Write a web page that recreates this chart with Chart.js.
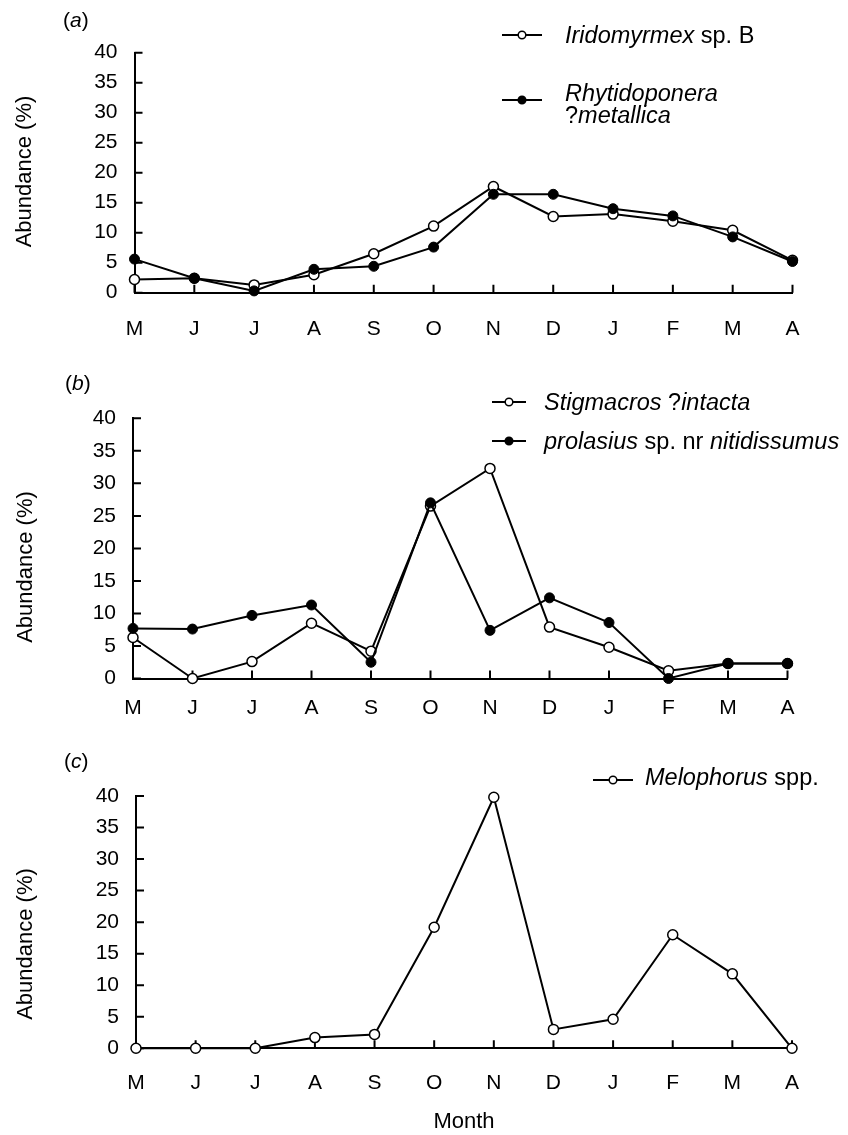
<!DOCTYPE html>
<html>
<head>
<meta charset="utf-8">
<title>Ant abundance by month</title>
<script src="https://cdn.jsdelivr.net/npm/chart.js@4.4.1/dist/chart.umd.min.js"></script>
<style>
  body { margin: 0; background: #fff; }
  #wrap { position: relative; width: 848px; height: 1135px; }
  #wrap canvas { position: absolute; left: 0; }
</style>
</head>
<body>
<div id="wrap">
  <canvas id="chartA" width="848" height="360" style="top:0px"></canvas>
  <canvas id="chartB" width="848" height="360" style="top:360px"></canvas>
  <canvas id="chartC" width="848" height="415" style="top:720px"></canvas>
</div>
<script>
// --- datos ---
const months = ['M', 'J', 'J', 'A', 'S', 'O', 'N', 'D', 'J', 'F', 'M', 'A'];
const yTicks = [0, 5, 10, 15, 20, 25, 30, 35, 40];

// (a)
const iridomyrmex   = [2.2, 2.4, 1.3, 3.0, 6.5, 11.1, 17.7, 12.7, 13.1, 11.9, 10.4, 5.4];
const rhytidoponera = [5.6, 2.4, 0.3, 3.9, 4.4, 7.6, 16.4, 16.4, 14.0, 12.8, 9.3, 5.2];
// (b)
const stigmacros = [6.3, 0, 2.6, 8.5, 4.2, 26.5, 32.3, 7.9, 4.8, 1.2, 2.3, 2.3];
const prolasius  = [7.7, 7.6, 9.7, 11.3, 2.5, 27.0, 7.4, 12.4, 8.6, 0, 2.3, 2.3];
// (c)
const melophorus = [0, 0, 0, 1.7, 2.2, 19.2, 39.8, 3.0, 4.6, 18.0, 11.8, 0];

const FONT = '"Liberation Sans", Arial, Helvetica, sans-serif';
const LEGEND_SIZE = 23.5;

// estilos de serie
function openSeries(data) {
    return {
        data: data,
        borderColor: '#000',
        borderWidth: 2,
        tension: 0,
        clip: false,
        pointRadius: 5,
        pointBackgroundColor: '#fff',
        pointBorderColor: '#000',
        pointBorderWidth: 1.5,
        order: 1
    };
}
function filledSeries(data) {
    return {
        data: data,
        borderColor: '#000',
        borderWidth: 2,
        tension: 0,
        clip: false,
        pointRadius: 5,
        pointBackgroundColor: '#000',
        pointBorderColor: '#000',
        pointBorderWidth: 1,
        order: 0
    };
}

// texto con partes en cursiva y partes normales
function drawParts(ctx, parts, x, y, size) {
    parts.forEach(([txt, italic]) => {
        ctx.font = (italic ? 'italic ' : '') + size + 'px ' + FONT;
        ctx.fillText(txt, x, y);
        x += ctx.measureText(txt).width;
    });
}

// --- plugin: marcas interiores, letra del panel, título Y y leyenda ---
const decor = {
    id: 'decor',
    beforeDatasetsDraw(chart) {
        const ctx = chart.ctx;
        const area = chart.chartArea;
        const x = chart.scales.x, y = chart.scales.y;
        ctx.save();
        ctx.strokeStyle = '#000';
        ctx.lineWidth = 2;
        ctx.beginPath();
        x.ticks.forEach((t, i) => {
            const px = x.getPixelForTick(i);
            ctx.moveTo(px, area.bottom);
            ctx.lineTo(px, area.bottom - 8);
        });
        y.ticks.forEach((t, i) => {
            const py = y.getPixelForTick(i);
            ctx.moveTo(area.left, py);
            ctx.lineTo(area.left + 8, py);
        });
        ctx.stroke();
        ctx.restore();
    },
    afterDraw(chart, args, opts) {
        const ctx = chart.ctx;
        ctx.save();
        ctx.fillStyle = '#000';
        ctx.textBaseline = 'alphabetic';
        ctx.textAlign = 'left';

        // (a), (b), (c)
        drawParts(ctx, [['(', false], [opts.letter, true], [')', false]], opts.letterX, opts.letterY, 21);

        // título del eje Y
        ctx.save();
        ctx.translate(opts.titleX, opts.titleY);
        ctx.rotate(-Math.PI / 2);
        ctx.textAlign = 'center';
        ctx.textBaseline = 'middle';
        ctx.font = '22px ' + FONT;
        ctx.fillText('Abundance (%)', 0, 0);
        ctx.restore();

        // leyenda
        opts.legend.forEach(item => {
            const ds = chart.data.datasets[item.ds];
            ctx.strokeStyle = ds.borderColor;
            ctx.lineWidth = 2;
            ctx.beginPath();
            ctx.moveTo(item.x1, item.y);
            ctx.lineTo(item.x2, item.y);
            ctx.stroke();
            ctx.beginPath();
            ctx.arc((item.x1 + item.x2) / 2, item.y, 3.8, 0, Math.PI * 2);
            ctx.fillStyle = ds.pointBackgroundColor;
            ctx.fill();
            ctx.lineWidth = 1.5;
            ctx.strokeStyle = ds.pointBorderColor;
            ctx.stroke();
            ctx.fillStyle = '#000';
            item.lines.forEach(line => drawParts(ctx, line.parts, item.tx, line.base, LEGEND_SIZE));
        });
        ctx.restore();
    }
};

// opciones comunes de un panel
function panelOptions(frame, decorOpts, showMonthTitle) {
    return {
        responsive: false,
        animation: false,
        events: [],
        layout: {
            padding: { left: 0, top: frame.top, right: 848 - frame.right, bottom: 0 }
        },
        scales: {
            x: {
                type: 'category',
                offset: false,
                grid: { display: false, drawTicks: false },
                border: { display: true, color: '#000', width: 2 },
                ticks: {
                    color: '#000',
                    font: { family: FONT, size: 21 },
                    padding: frame.xPad,
                    autoSkip: false,
                    maxRotation: 0
                },
                title: {
                    display: showMonthTitle,
                    text: 'Month',
                    color: '#000',
                    font: { family: FONT, size: 22 },
                    padding: { top: 0, bottom: 0 }
                },
                afterFit: s => { s.height = frame.height - frame.bottom; }
            },
            y: {
                min: 0,
                max: 40,
                grid: { display: false, drawTicks: false },
                border: { display: true, color: '#000', width: 2 },
                ticks: {
                    color: '#000',
                    font: { family: FONT, size: 21 },
                    padding: 17
                },
                afterBuildTicks: s => { s.ticks = yTicks.map(v => ({ value: v })); },
                afterFit: s => { s.width = frame.left; }
            }
        },
        plugins: {
            legend: { display: false },
            tooltip: { enabled: false },
            decor: decorOpts
        }
    };
}

// --- Panel (a) ---
new Chart(document.getElementById('chartA'), {
    type: 'line',
    data: {
        labels: months,
        datasets: [openSeries(iridomyrmex), filledSeries(rhytidoponera)]
    },
    options: panelOptions(
        { left: 134.5, right: 792.5, top: 52.7, bottom: 292.7, height: 360, xPad: 24 },
        {
            letter: 'a', letterX: 63, letterY: 27,
            titleX: 25, titleY: 171.5,
            legend: [
                { ds: 0, x1: 502, x2: 542, y: 35, tx: 565,
                  lines: [{ base: 43, parts: [['Iridomyrmex', true], [' sp. B', false]] }] },
                { ds: 1, x1: 502, x2: 542, y: 100, tx: 565,
                  lines: [{ base: 101, parts: [['Rhytidoponera', true]] },
                          { base: 123, parts: [['?', false], ['metallica', true]] }] }
            ]
        },
        false
    ),
    plugins: [decor]
});

// --- Panel (b) ---
new Chart(document.getElementById('chartB'), {
    type: 'line',
    data: {
        labels: months,
        datasets: [openSeries(stigmacros), filledSeries(prolasius)]
    },
    options: panelOptions(
        { left: 133, right: 787.5, top: 58.3, bottom: 318.5, height: 360, xPad: 17 },
        {
            letter: 'b', letterX: 65, letterY: 30,
            titleX: 26, titleY: 207,
            legend: [
                { ds: 0, x1: 492, x2: 526, y: 42, tx: 544,
                  lines: [{ base: 50, parts: [['Stigmacros', true], [' ?', false], ['intacta', true]] }] },
                { ds: 1, x1: 492, x2: 526, y: 81, tx: 544,
                  lines: [{ base: 89, parts: [['prolasius', true], [' sp. nr ', false], ['nitidissumus', true]] }] }
            ]
        },
        false
    ),
    plugins: [decor]
});

// --- Panel (c) ---
new Chart(document.getElementById('chartC'), {
    type: 'line',
    data: {
        labels: months,
        datasets: [openSeries(melophorus)]
    },
    options: panelOptions(
        { left: 136, right: 792, top: 76, bottom: 328.3, height: 415, xPad: 22 },
        {
            letter: 'c', letterX: 64, letterY: 48,
            titleX: 26, titleY: 224,
            legend: [
                { ds: 0, x1: 593, x2: 633, y: 60, tx: 645,
                  lines: [{ base: 65, parts: [['Melophorus', true], [' spp.', false]] }] }
            ]
        },
        true
    ),
    plugins: [decor]
});
</script>
</body>
</html>
